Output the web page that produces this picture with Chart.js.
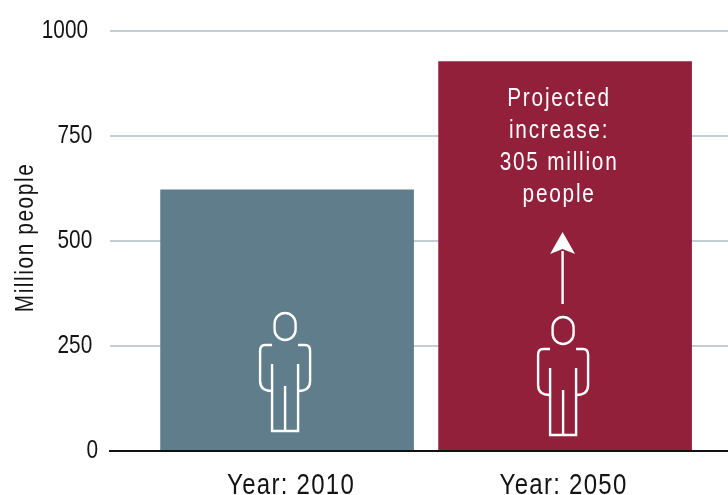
<!DOCTYPE html>
<html>
<head>
<meta charset="utf-8">
<script src="https://cdn.jsdelivr.net/npm/chart.js@4"></script>
<style>
html, body { margin: 0; padding: 0; background: #ffffff; }
#wrap { width: 728px; height: 495px; }
</style>
</head>
<body>
<div id="wrap"><canvas id="chart" width="728" height="495"></canvas></div>
<script>
const categories = ["Year: 2010", "Year: 2050"];
const positions = [0, 1];
const millionPeople = [622, 927];
const barColors = ["#5f7d8a", "#93203a"];
const yTicks = [0, 250, 500, 750, 1000];
const noteLines = ["Projected", "increase:", "305 million", "people"];
const axisTitle = "Million people";

const FONT = '"Liberation Sans", sans-serif';
const INK = "#141414";
const CONDENSE = 0.8;

// no condensed face is installed, so all text is squeezed when it is painted
const tracking = { [axisTitle]: "2px" };
categories.forEach(c => { tracking[c] = "1.6px"; });
noteLines.forEach(l => { tracking[l] = "2.2px"; });

// small shifts along the text direction: the axis title sits above the middle
// of the axis and the year labels are not quite centred under their bars
const nudge = { [axisTitle]: 3.5, "Year: 2010": 4, "Year: 2050": -1.5 };

function condenseText(ctx){
    const fill = ctx.fillText.bind(ctx);
    ctx.fillText = (text, x, y) => {
        ctx.save();
        ctx.translate(x + (nudge[text] || 0), y);
        ctx.scale(CONDENSE, 1);
        ctx.letterSpacing = tracking[text] || "0px";
        fill(text, 0, 0);
        ctx.restore();
    };
}

// ================= PERSON ICON =================
function drawPerson(ctx, cx, foot){
    const top = foot - 119;

    ctx.beginPath();
    ctx.roundRect(cx - 10.5, top + 1, 21, 27, 10.5);
    ctx.stroke();

    // arms, open towards the body
    [-1, 1].forEach(s => {
        ctx.beginPath();
        ctx.moveTo(cx + s * 13, top + 33);
        ctx.lineTo(cx + s * 20, top + 33);
        ctx.quadraticCurveTo(cx + s * 25, top + 33, cx + s * 25, top + 39);
        ctx.lineTo(cx + s * 25, top + 69);
        ctx.quadraticCurveTo(cx + s * 25, top + 79, cx + s * 13, top + 79);
        ctx.stroke();
    });

    // legs
    ctx.beginPath();
    ctx.moveTo(cx - 13, top + 52);
    ctx.lineTo(cx - 13, foot);
    ctx.lineTo(cx + 13, foot);
    ctx.lineTo(cx + 13, top + 52);
    ctx.moveTo(cx, top + 74);
    ctx.lineTo(cx, foot);
    ctx.stroke();
}

// ================= BAR DECORATION =================
const barNotes = {
    id: "barNotes",
    afterDatasetsDraw(chart){
        const ctx = chart.ctx;
        const bars = chart.getDatasetMeta(0).data;
        const base = chart.scales.y.getPixelForValue(0);

        ctx.save();
        ctx.strokeStyle = "#ffffff";
        ctx.fillStyle = "#ffffff";
        ctx.lineWidth = 2.4;

        drawPerson(ctx, bars[0].x - 2, base - 20);
        drawPerson(ctx, bars[1].x - 2, base - 16);

        // arrow above the second person
        const ax = bars[1].x - 2.5;
        ctx.beginPath();
        ctx.moveTo(ax, base - 147);
        ctx.lineTo(ax, base - 200);
        ctx.stroke();
        ctx.beginPath();
        ctx.moveTo(ax, base - 219);
        ctx.lineTo(ax + 12.5, base - 197);
        ctx.lineTo(ax, base - 202);
        ctx.lineTo(ax - 12.5, base - 197);
        ctx.closePath();
        ctx.fill();

        // note inside the second bar
        ctx.font = "26px " + FONT;
        ctx.textAlign = "center";
        ctx.textBaseline = "alphabetic";
        noteLines.forEach((line, i) => {
            ctx.fillText(line, bars[1].x - 6, bars[1].y + 44 + i * 32);
        });
        ctx.restore();
    }
};

// ================= CHART =================
const canvas = document.getElementById("chart");
condenseText(canvas.getContext("2d"));

new Chart(canvas, {
    type: "bar",
    plugins: [barNotes],
    data: {
        datasets: [{
            data: positions.map((p, i) => ({ x: p, y: millionPeople[i] })),
            backgroundColor: barColors,
            barThickness: 253,
            borderWidth: 0
        }]
    },
    options: {
        responsive: false,
        animation: false,
        layout: { padding: { top: 31, right: 0, bottom: 0, left: 0 } },
        plugins: {
            legend: { display: false },
            tooltip: { enabled: false }
        },
        scales: {
            x: {
                type: "linear",
                offset: false,
                min: -0.637,
                max: 1.586,
                afterFit: s => { s.height = 44; },
                afterBuildTicks: s => { s.ticks = positions.map(p => ({ value: p })); },
                grid: { display: false },
                border: { display: true, color: "#111111", width: 2, z: 2 },
                ticks: {
                    autoSkip: false,
                    maxRotation: 0,
                    padding: 9,
                    color: INK,
                    font: { family: FONT, size: 30 },
                    callback: v => categories[v]
                }
            },
            y: {
                min: 0,
                max: 1000,
                afterFit: s => { s.width = 110; },
                afterBuildTicks: s => { s.ticks = yTicks.map(v => ({ value: v })); },
                grid: { color: "#c3ced4", lineWidth: 2, drawTicks: false },
                border: { display: false },
                ticks: {
                    padding: 12,
                    color: INK,
                    font: { family: FONT, size: 26 },
                    // trailing spaces pull the wider labels left of the zero
                    callback: v => v === 0 ? "0" : v + (v === 1000 ? " \u2009" : " ")
                },
                title: {
                    display: true,
                    text: axisTitle,
                    color: INK,
                    font: { family: FONT, size: 26 },
                    padding: { top: 10, bottom: 0 }
                }
            }
        }
    }
});
</script>
</body>
</html>
